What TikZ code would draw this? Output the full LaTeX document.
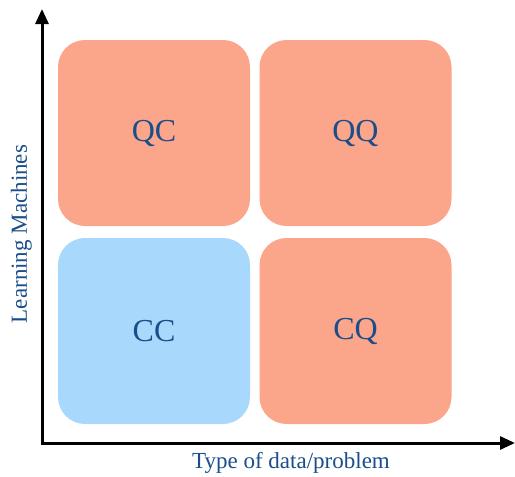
\documentclass[tikz,border=0pt]{standalone}
\usepackage{fontspec}
\setmainfont{Liberation Serif}
\usetikzlibrary{arrows.meta}
\definecolor{salmon}{HTML}{FBA58B}
\definecolor{skyb}{HTML}{A8D8FC}
\definecolor{txtblue}{HTML}{1A4E8A}
\begin{document}
\begin{tikzpicture}[x=1pt,y=-1pt,
  quad/.style={rounded corners=27pt, minimum width=192pt, minimum height=186pt, inner sep=0pt, text=txtblue, font=\fontsize{32}{36}\selectfont},
  axis/.style={line width=3pt, -{Triangle[length=15pt,width=13pt]}},
  axlabel/.style={text=txtblue, font=\fontsize{23}{26}\selectfont, inner sep=0pt}]
\useasboundingbox (0,0) rectangle (515,477);
\node[quad, fill=salmon] (qc) at (154,133) {QC};
\node[quad, fill=salmon] (qq) at (355.5,133) {QQ};
\node[quad, fill=skyb] (cc) at (154,331) {CC};
\node[quad, fill=salmon] (cq) at (355.5,331) {CQ};
\coordinate (origin) at (42,443);
\coordinate (ytop) at (42,9);
\coordinate (xend) at (515,443);
\draw[axis] ([yshift=-1.5pt]origin) -- (ytop);
\draw[axis] ([xshift=-1.5pt]origin) -- (xend);
\node[axlabel, anchor=base] (xl) at (291,468) {Type of data/problem};
\node[axlabel, anchor=base, rotate=90] (yl) at (27,234) {Learning Machines};
\end{tikzpicture}
\end{document}
